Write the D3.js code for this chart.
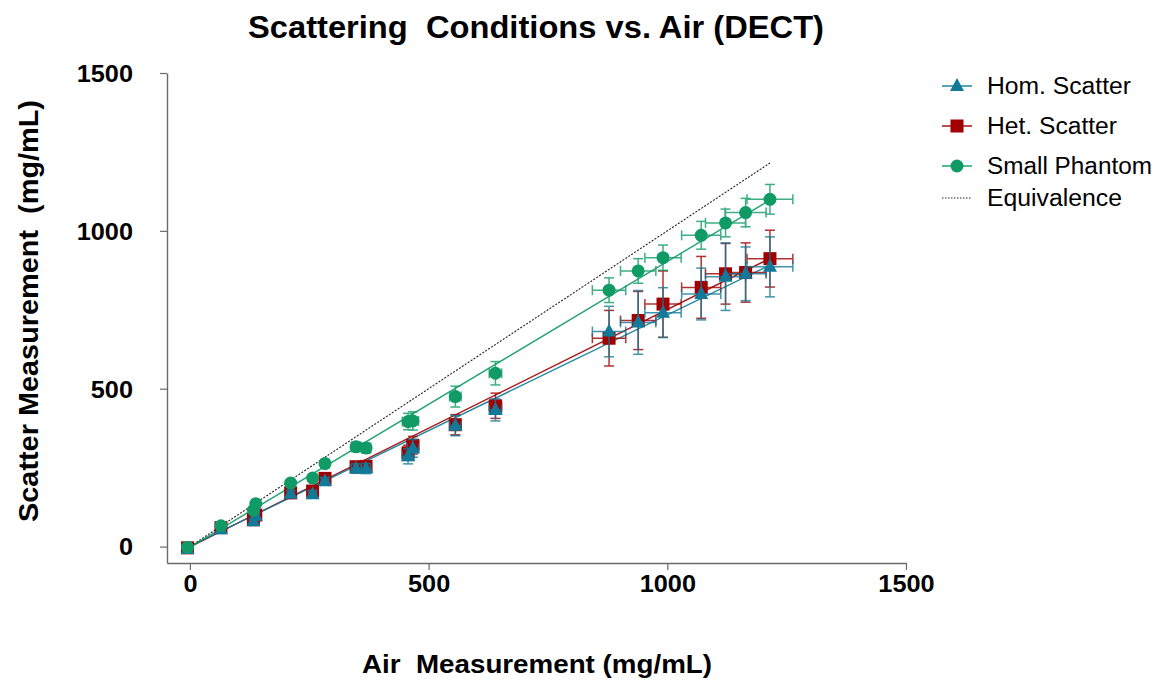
<!DOCTYPE html>
<html><head><meta charset="utf-8">
<script src="https://cdn.jsdelivr.net/npm/d3@7"></script>
<style>
html,body{margin:0;padding:0;background:#fff;}
svg{display:block;font-family:"Liberation Sans",Arial,sans-serif;}
</style></head>
<body>
<svg id="chart" width="1163" height="681"></svg>
<script>
// ---------- data ----------
const airX = [-5, 65, 133, 138, 211, 257, 283, 348, 369, 457, 467, 556, 640, 878, 939, 991, 1071, 1122, 1164, 1215];
const airErr = [3, 4, 5, 5, 7, 8, 8, 10, 10, 12, 12, 12, 13, 35, 37, 38, 41, 42, 43, 48];
const homY = [-8, 55, 80, 98, 167, 166, 207, 247, 247, 286, 311, 383, 433, 681, 710, 741, 800, 855, 864, 886];
const homErr = [4, 6, 8, 8, 10, 11, 12, 15, 16, 24, 28, 32, 35, 80, 101, 79, 82, 107, 85, 95];
const hetY = [-4, 60, 85, 100, 170, 176, 216, 253, 254, 297, 321, 386, 446, 660, 716, 768, 821, 864, 868, 912];
const hetErr = [4, 6, 8, 8, 10, 11, 12, 15, 16, 24, 28, 32, 40, 88, 92, 105, 98, 96, 94, 90];
const smallY = [-2, 66, 115, 136, 201, 217, 263, 316, 312, 396, 398, 475, 549, 812, 873, 915, 986, 1025, 1058, 1100];
const smallErr = [4, 6, 8, 8, 10, 11, 12, 15, 16, 26, 29, 33, 37, 39, 39, 40, 44, 44, 45, 47];
const seriesNames = ["Hom. Scatter", "Het. Scatter", "Small Phantom", "Equivalence"];
const fitSlope = [0.733, 0.752, 0.905];
const fitIntercept = [1, -1, -2];
const xTicks = [0, 500, 1000, 1500];
const yTicks = [0, 500, 1000, 1500];
const fitRange = [-5, 1215];

const colors = {hom: "#127a98", het: "#a00000", small: "#0f9a66"};

const svg = d3.select("#chart");
const x = d3.scaleLinear().domain([-48, 1500]).range([167, 906]);
const y = d3.scaleLinear().domain([-52, 1500]).range([563, 73]);

function stretch(sel, factor) {
  sel.each(function(){
    const len = this.getComputedTextLength();
    d3.select(this).attr("textLength", len * factor).attr("lengthAdjust", "spacingAndGlyphs");
  });
}

// ---------- axes ----------
const xAxis = svg.append("g").attr("transform", "translate(0,563)")
  .call(d3.axisBottom(x).tickValues(xTicks).tickSize(7).tickSizeOuter(0).tickFormat(d3.format("d")));
const yAxis = svg.append("g").attr("transform", "translate(167,0)")
  .call(d3.axisLeft(y).tickValues(yTicks).tickSize(7).tickSizeOuter(0).tickFormat(d3.format("d")));
[xAxis, yAxis].forEach(a => {
  a.select(".domain").attr("stroke", "#6a6a6a").attr("stroke-width", 1.4);
  a.selectAll(".tick line").attr("stroke", "#6a6a6a").attr("stroke-width", 1.2);
  a.selectAll(".tick text").attr("fill", "#000").attr("font-size", 23).attr("font-weight", "bold")
    .attr("font-family", "Liberation Sans, Arial, sans-serif");
});
xAxis.selectAll(".tick text").attr("dy", null).attr("y", 29);
yAxis.selectAll(".tick text").attr("x", -34).attr("dy", "0.36em");
stretch(xAxis.selectAll(".tick text"), 1.1);
stretch(yAxis.selectAll(".tick text"), 1.1);

// ---------- equivalence line ----------
svg.append("line")
  .attr("x1", x(fitRange[0])).attr("y1", y(fitRange[0]))
  .attr("x2", x(fitRange[1])).attr("y2", y(fitRange[1]))
  .attr("stroke", "#222").attr("stroke-width", 1.1).attr("stroke-dasharray", "2,1.5");

const series = [
  {key: "het", ys: hetY, err: hetErr, color: colors.het, shape: "square", fi: 1},
  {key: "hom", ys: homY, err: homErr, color: colors.hom, shape: "triangle", fi: 0},
  {key: "small", ys: smallY, err: smallErr, color: colors.small, shape: "circle", fi: 2},
];

series.forEach(s => {
  const m = fitSlope[s.fi], b = fitIntercept[s.fi];
  svg.append("line")
    .attr("x1", x(fitRange[0])).attr("y1", y(m * fitRange[0] + b))
    .attr("x2", x(fitRange[1])).attr("y2", y(m * fitRange[1] + b))
    .attr("stroke", s.color).attr("stroke-width", 1.4).attr("opacity", 0.9);
});

function drawMarker(g, shape, cx, cy, color) {
  if (shape === "circle") {
    g.append("circle").attr("cx", cx).attr("cy", cy).attr("r", 6.5).attr("fill", color);
  } else if (shape === "square") {
    g.append("rect").attr("x", cx - 6.5).attr("y", cy - 6.5).attr("width", 13).attr("height", 13).attr("fill", color);
  } else {
    g.append("path").attr("d", `M${cx},${cy - 8}L${cx + 7},${cy + 5}L${cx - 7},${cy + 5}Z`).attr("fill", color);
  }
}

const cap = 5;
series.forEach(s => {
  const g = svg.append("g");
  const eg = g.append("g").attr("stroke", s.color).attr("stroke-width", 1.5).attr("opacity", 0.8);
  airX.forEach((xv, i) => {
    const yv = s.ys[i], ye = s.err[i], xe = airErr[i];
    const cx = x(xv), cy = y(yv);
    const yt = y(yv + ye), yb = y(yv - ye);
    const xl = x(xv - xe), xr = x(xv + xe);
    eg.append("line").attr("x1", cx).attr("x2", cx).attr("y1", yt).attr("y2", yb);
    eg.append("line").attr("x1", cx - cap).attr("x2", cx + cap).attr("y1", yt).attr("y2", yt);
    eg.append("line").attr("x1", cx - cap).attr("x2", cx + cap).attr("y1", yb).attr("y2", yb);
    eg.append("line").attr("x1", xl).attr("x2", xr).attr("y1", cy).attr("y2", cy);
    eg.append("line").attr("x1", xl).attr("x2", xl).attr("y1", cy - cap).attr("y2", cy + cap);
    eg.append("line").attr("x1", xr).attr("x2", xr).attr("y1", cy - cap).attr("y2", cy + cap);
  });
  airX.forEach((xv, i) => drawMarker(g, s.shape, x(xv), y(s.ys[i]), s.color));
});

// ---------- titles ----------
svg.append("text").attr("x", 536).attr("y", 38).attr("text-anchor", "middle")
  .attr("font-size", 31).attr("font-weight", "bold")
  .style("white-space", "pre")
  .attr("textLength", 576).attr("lengthAdjust", "spacingAndGlyphs")
  .text("Scattering  Conditions vs. Air (DECT)");
svg.append("text").attr("x", 537).attr("y", 673).attr("text-anchor", "middle")
  .attr("font-size", 26).attr("font-weight", "bold").style("white-space", "pre")
  .attr("textLength", 350).attr("lengthAdjust", "spacingAndGlyphs")
  .text("Air  Measurement (mg/mL)");
svg.append("text").attr("transform", "translate(38,311) rotate(-90)").attr("text-anchor", "middle")
  .attr("font-size", 27).attr("font-weight", "bold").style("white-space", "pre")
  .attr("textLength", 422).attr("lengthAdjust", "spacingAndGlyphs")
  .text("Scatter Measurement  (mg/mL)");

// ---------- legend ----------
const legRows = [86, 126, 166, 198];
const legLens = [144, 130, 165, 135];
const legShapes = ["triangle", "square", "circle", null];
const legColors = [colors.hom, colors.het, colors.small, "#222"];
const lg = svg.append("g");
seriesNames.forEach((name, i) => {
  const cy = legRows[i];
  const ln = lg.append("line").attr("x1", 942).attr("x2", 972).attr("y1", cy).attr("y2", cy)
    .attr("stroke", legColors[i]).attr("stroke-width", i === 3 ? 1 : 1.4);
  if (i === 3) ln.attr("stroke-dasharray", "1.5,1.5");
  if (legShapes[i]) drawMarker(lg, legShapes[i], 957, cy, legColors[i]);
  lg.append("text").attr("x", 987).attr("y", cy + 8).attr("font-size", 23).attr("fill", "#000")
    .attr("textLength", legLens[i]).attr("lengthAdjust", "spacingAndGlyphs").text(name);
});
</script>
</body></html>
